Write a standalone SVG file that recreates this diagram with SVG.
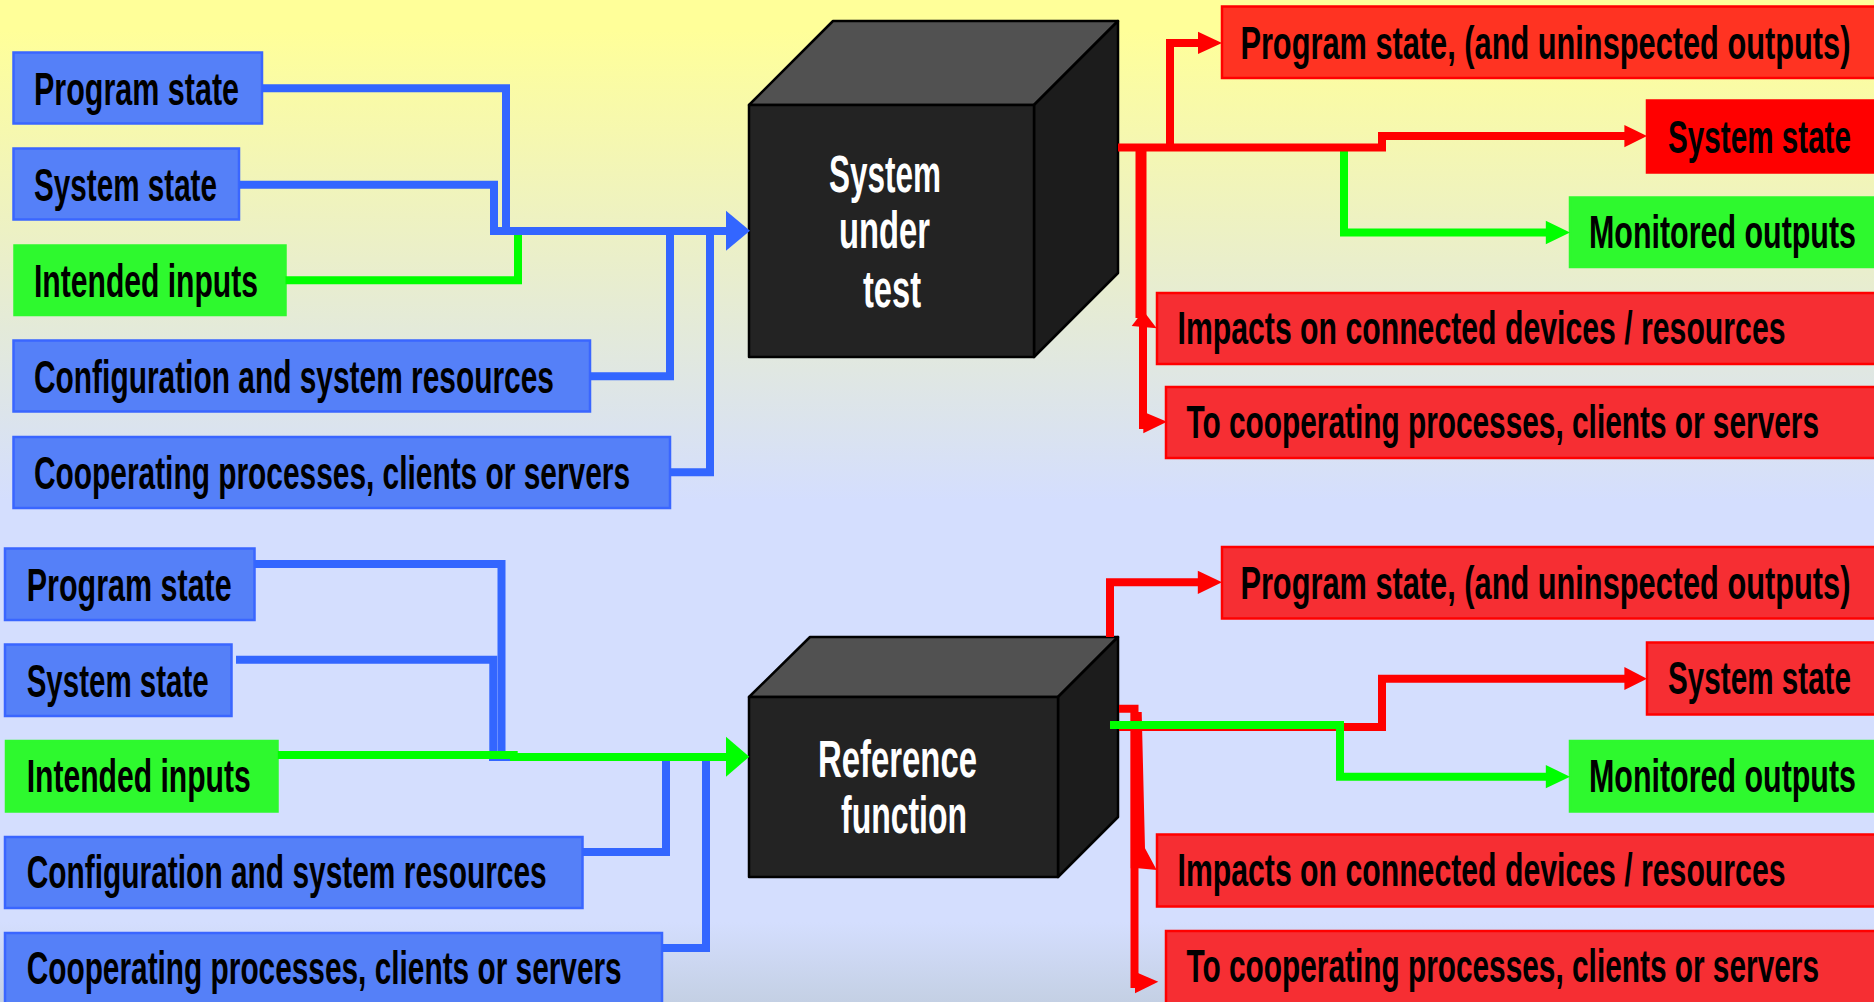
<svg xmlns="http://www.w3.org/2000/svg" width="1874" height="1002" viewBox="0 0 1874 1002">
  <defs>
    <linearGradient id="bg" gradientUnits="userSpaceOnUse" x1="0" y1="0" x2="0" y2="1002">
      <stop offset="0" stop-color="#FFFF99"/>
      <stop offset="0.03" stop-color="#FFFF99"/>
      <stop offset="0.5" stop-color="#D4DEFE"/>
      <stop offset="0.92" stop-color="#D4DEFE"/>
      <stop offset="1" stop-color="#C4D0E4"/>
    </linearGradient>
    <style>
      .bx-blue { fill: #5580F8; stroke: #3A66FF; stroke-width: 2.5; }
      .bx-green { fill: #2EF92E; stroke: #2EF92E; stroke-width: 2.5; }
      .bx-red { fill: #F62E33; stroke: #FF0000; stroke-width: 2.5; }
      .bx-orange { fill: #FF3322; stroke: #FF0000; stroke-width: 2.5; }
      .bx-pure { fill: #FF0000; stroke: #FF0000; stroke-width: 2.5; }
      .lbl { font-family: "Liberation Sans", Arial, sans-serif; font-weight: bold; font-size: 47px; fill: #000; }
      .cube-lbl { font-family: "Liberation Sans", Arial, sans-serif; font-weight: bold; font-size: 51px; fill: #FFF; }
      .front { fill: #232323; stroke: #000; stroke-width: 2.5; stroke-linejoin: round; }
      .top { fill: #515151; stroke: #000; stroke-width: 2.5; stroke-linejoin: round; }
      .side { fill: #1C1C1C; stroke: #000; stroke-width: 2.5; stroke-linejoin: round; }
      .w { fill: none; stroke-width: 8; stroke-linecap: butt; stroke-linejoin: miter; }
      .wb { stroke: #3366FF; }
      .wr { stroke: #FF0000; }
      .wg { stroke: #00FF00; }
      .hb { fill: #3366FF; }
      .hr { fill: #FF0000; }
      .hg { fill: #00FF00; }
    </style>
  </defs>

  <rect x="0" y="0" width="1874" height="1002" fill="url(#bg)"/>

  <!-- ===== Upper row: system under test ===== -->
  <g id="sut-in-program-state">
    <rect class="bx-blue" x="13.5" y="52.5" width="248.5" height="71"/>
    <text class="lbl" x="34" y="105" textLength="205" lengthAdjust="spacingAndGlyphs">Program state</text>
  </g>
  <g id="sut-in-system-state">
    <rect class="bx-blue" x="13.5" y="148.5" width="225.5" height="71"/>
    <text class="lbl" x="34" y="201" textLength="183" lengthAdjust="spacingAndGlyphs">System state</text>
  </g>
  <g id="sut-in-intended">
    <rect class="bx-green" x="14.5" y="245.5" width="271" height="69.5"/>
    <text class="lbl" x="34" y="296.7" textLength="224" lengthAdjust="spacingAndGlyphs">Intended inputs</text>
  </g>
  <g id="sut-in-config">
    <rect class="bx-blue" x="13.5" y="340.5" width="576.5" height="71"/>
    <text class="lbl" x="34" y="393.3" textLength="520" lengthAdjust="spacingAndGlyphs">Configuration and system resources</text>
  </g>
  <g id="sut-in-coop">
    <rect class="bx-blue" x="13.5" y="437" width="656.5" height="71"/>
    <text class="lbl" x="34" y="489" textLength="596" lengthAdjust="spacingAndGlyphs">Cooperating processes, clients or servers</text>
  </g>

  <g id="sut-cube">
    <polygon class="top" points="749,105 833,21 1118,21 1034,105"/>
    <polygon class="side" points="1034,105 1118,21 1118,273 1034,357"/>
    <rect class="front" x="749" y="105" width="285" height="252"/>
    <text class="cube-lbl" x="829" y="191.7" textLength="112" lengthAdjust="spacingAndGlyphs">System</text>
    <text class="cube-lbl" x="839" y="248.3" textLength="91" lengthAdjust="spacingAndGlyphs">under</text>
    <text class="cube-lbl" x="863" y="306.7" textLength="58" lengthAdjust="spacingAndGlyphs">test</text>
  </g>

  <g id="sut-out-program-state">
    <rect class="bx-orange" x="1222" y="6.5" width="654" height="71.5"/>
    <text class="lbl" x="1240.4" y="59.3" textLength="610" lengthAdjust="spacingAndGlyphs">Program state, (and uninspected outputs)</text>
  </g>
  <g id="sut-out-system-state">
    <rect class="bx-pure" x="1647" y="100.5" width="229" height="72"/>
    <text class="lbl" x="1668" y="152.7" textLength="183" lengthAdjust="spacingAndGlyphs">System state</text>
  </g>
  <g id="sut-out-monitored">
    <rect class="bx-green" x="1570" y="197.5" width="306" height="69.5"/>
    <text class="lbl" x="1589" y="248.3" textLength="267" lengthAdjust="spacingAndGlyphs">Monitored outputs</text>
  </g>
  <g id="sut-out-impacts">
    <rect class="bx-red" x="1157" y="293" width="719" height="71"/>
    <text class="lbl" x="1177.5" y="344.3" textLength="608" lengthAdjust="spacingAndGlyphs">Impacts on connected devices / resources</text>
  </g>
  <g id="sut-out-coop">
    <rect class="bx-red" x="1166" y="387" width="710" height="71"/>
    <text class="lbl" x="1186.5" y="437.7" textLength="632.5" lengthAdjust="spacingAndGlyphs">To cooperating processes, clients or servers</text>
  </g>

  <!-- ===== Lower row: reference function ===== -->
  <g id="ref-in-program-state">
    <rect class="bx-blue" x="5" y="548.5" width="249.5" height="71.5"/>
    <text class="lbl" x="26.7" y="601" textLength="205" lengthAdjust="spacingAndGlyphs">Program state</text>
  </g>
  <g id="ref-in-system-state">
    <rect class="bx-blue" x="5" y="644.5" width="226.5" height="71.5"/>
    <text class="lbl" x="26.7" y="696.7" textLength="182" lengthAdjust="spacingAndGlyphs">System state</text>
  </g>
  <g id="ref-in-intended">
    <rect class="bx-green" x="6" y="741" width="271.5" height="70.5"/>
    <text class="lbl" x="26.7" y="791.7" textLength="224" lengthAdjust="spacingAndGlyphs">Intended inputs</text>
  </g>
  <g id="ref-in-config">
    <rect class="bx-blue" x="5" y="837" width="577.5" height="71"/>
    <text class="lbl" x="26.7" y="888.3" textLength="520" lengthAdjust="spacingAndGlyphs">Configuration and system resources</text>
  </g>
  <g id="ref-in-coop">
    <rect class="bx-blue" x="5" y="933" width="657" height="71"/>
    <text class="lbl" x="26.7" y="984" textLength="595" lengthAdjust="spacingAndGlyphs">Cooperating processes, clients or servers</text>
  </g>

  <g id="ref-cube">
    <polygon class="top" points="749,697 810,637 1118,637 1058,697"/>
    <polygon class="side" points="1058,697 1118,637 1118,817 1058,877"/>
    <rect class="front" x="749" y="697" width="309" height="180"/>
    <text class="cube-lbl" x="818" y="776.7" textLength="159" lengthAdjust="spacingAndGlyphs">Reference</text>
    <text class="cube-lbl" x="841" y="833.3" textLength="126" lengthAdjust="spacingAndGlyphs">function</text>
  </g>

  <g id="ref-out-program-state">
    <rect class="bx-red" x="1222" y="547" width="654" height="71.5"/>
    <text class="lbl" x="1240.4" y="599.3" textLength="610" lengthAdjust="spacingAndGlyphs">Program state, (and uninspected outputs)</text>
  </g>
  <g id="ref-out-system-state">
    <rect class="bx-red" x="1647" y="642.5" width="229" height="72"/>
    <text class="lbl" x="1668" y="694.3" textLength="183" lengthAdjust="spacingAndGlyphs">System state</text>
  </g>
  <g id="ref-out-monitored">
    <rect class="bx-green" x="1570" y="741" width="306" height="70.5"/>
    <text class="lbl" x="1589" y="791.7" textLength="267" lengthAdjust="spacingAndGlyphs">Monitored outputs</text>
  </g>
  <g id="ref-out-impacts">
    <rect class="bx-red" x="1157" y="834.5" width="719" height="72"/>
    <text class="lbl" x="1177.5" y="886" textLength="608" lengthAdjust="spacingAndGlyphs">Impacts on connected devices / resources</text>
  </g>
  <g id="ref-out-coop">
    <rect class="bx-red" x="1166" y="931" width="710" height="73"/>
    <text class="lbl" x="1186.5" y="982.3" textLength="632.5" lengthAdjust="spacingAndGlyphs">To cooperating processes, clients or servers</text>
  </g>

  <!-- ===== Connectors ===== -->
  <g id="connectors">
    <!-- upper inputs -->
    <path class="w wg" d="M285.5,280.3 H518 V231"/>
    <path class="w wb" d="M262,88.3 H506 V231"/>
    <path class="w wb" d="M239,184.7 H494 V231"/>
    <path class="w wb" d="M590,376.3 H670 V231"/>
    <path class="w wb" d="M670,472.2 H710 V231"/>
    <path class="w wb" d="M490,231 H728"/>
    <polygon class="hb" points="726,210.7 750,230.7 726,250.7"/>

    <!-- upper outputs -->
    <path class="w wg" d="M1344,148 V232.5 H1548"/>
    <polygon class="hg" points="1545.8,220.7 1570,232.5 1545.8,244.3"/>
    <path class="w wr" d="M1118,147.5 H1382 V136 H1626"/>
    <polygon class="hr" points="1624.4,125 1647,136 1624.4,147.3"/>
    <path class="w wr" d="M1170,148 V43 H1200"/>
    <polygon class="hr" points="1198,31.7 1222,43 1198,54"/>
    <path class="w wr" d="M1141,150 V318" style="stroke-width:11"/>
    <path class="w wr" d="M1143,318 V425 H1146"/>
    <polygon class="hr" points="1131.7,326 1143.3,310.7 1156.7,328.3"/>
    <polygon class="hr" points="1143.3,411.7 1167,421.7 1143.3,433.3"/>

    <!-- lower inputs -->
    <path class="w wb" d="M254.5,564 H501.5 V761"/>
    <path class="w wb" d="M236,659.7 H493.3 V761"/>
    <path class="w wb" d="M582.6,852 H666 V757"/>
    <path class="w wb" d="M662,948 H706 V757"/>
    <path class="w wb" d="M489,757 H722"/>
    <path class="w wg" d="M277.8,755 H517.7"/>
    <path class="w wg" d="M510,757 H728"/>
    <polygon class="hg" points="726,736.7 749.3,756.7 726,776.7"/>

    <!-- lower outputs -->
    <path class="w wr" d="M1110,637 V582.3 H1200"/>
    <polygon class="hr" points="1197.8,570.7 1222,582.3 1197.8,594"/>
    <path class="w wr" d="M1119,708.7 H1134.5 V988"/>
    <polygon class="hr" points="1130.7,712 1141.7,712 1145,848.3 1156.7,870 1138.3,868.3 1130.7,868.3"/>
    <polygon class="hr" points="1135,971.7 1158.3,981.7 1135,993.3"/>
    <path class="w wr" d="M1119,727 H1382 V678.7 H1626"/>
    <polygon class="hr" points="1624.4,667 1647,678.7 1624.4,690"/>
    <path class="w wg" d="M1110,725 H1340 V776.7 H1548"/>
    <polygon class="hg" points="1545.8,765 1570,776.7 1545.8,788.3"/>
  </g>
</svg>
